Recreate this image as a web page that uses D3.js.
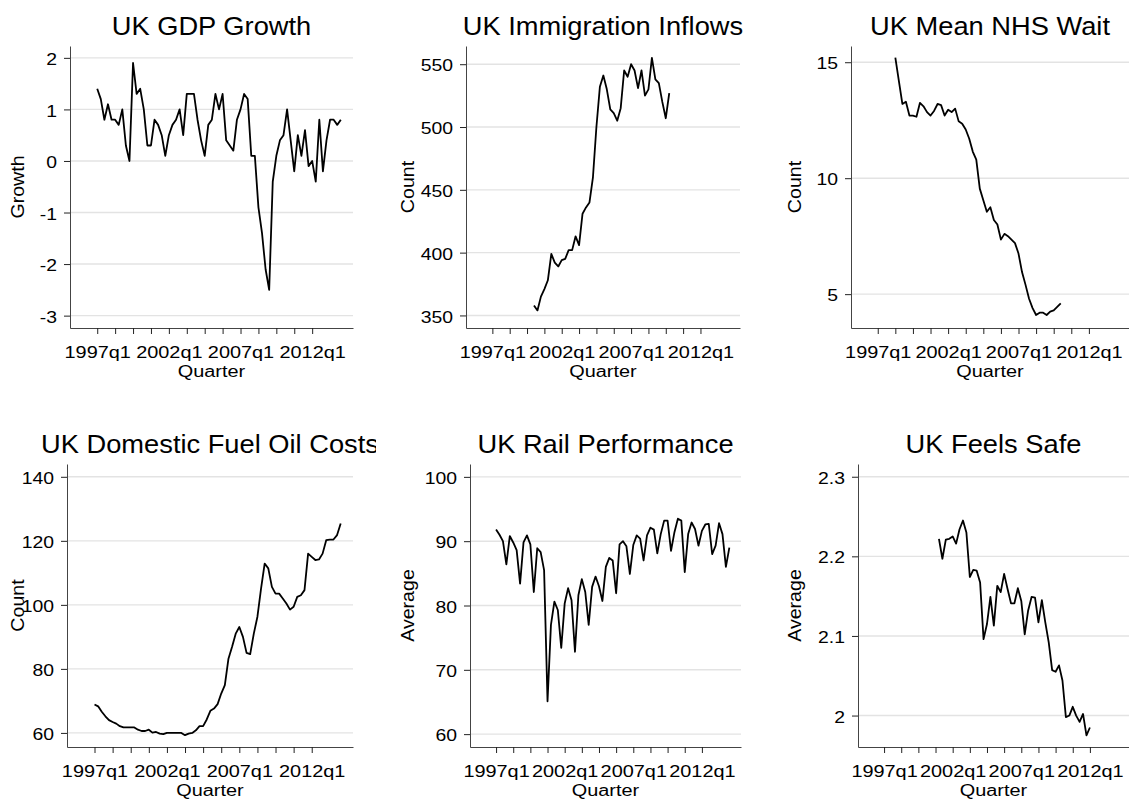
<!DOCTYPE html>
<html>
<head>
<meta charset="utf-8">
<script src="https://cdn.jsdelivr.net/npm/d3@7"></script>
<style>
html, body { margin: 0; padding: 0; background: #ffffff; }
svg { display: block; }
</style>
</head>
<body>
<svg id="chart" width="1129" height="801"></svg>
<script>
// ---------------- DATA ----------------
// Quarter offsets are counted from 1997q1 (= 0).
const xTickQuarters = [0, 5, 10, 15, 20, 25, 30, 35, 40, 45, 50, 55, 60];
const xLabelQuarters = [0, 20, 40, 60];
const xLabels = ["1997q1", "2002q1", "2007q1", "2012q1"];
const xAxisTitle = "Quarter";

const titles = ["UK GDP Growth", "UK Immigration Inflows", "UK Mean NHS Wait",
                "UK Domestic Fuel Oil Costs", "UK Rail Performance", "UK Feels Safe"];
const yAxisTitles = ["Growth", "Count", "Count", "Count", "Average", "Average"];

// UK GDP Growth, 1997q1 - 2014q1
const gdpStart = 0;
const gdpGrowth = [
  1.4, 1.2, 0.8, 1.1, 0.8, 0.8, 0.7, 1.0, 0.3, 0.0,
  1.9, 1.3, 1.4, 1.0, 0.3, 0.3, 0.8, 0.7, 0.5, 0.1,
  0.5, 0.7, 0.8, 1.0, 0.5, 1.3, 1.3, 1.3, 0.8, 0.4,
  0.1, 0.7, 0.8, 1.3, 1.0, 1.3, 0.4, 0.3, 0.2, 0.8,
  1.0, 1.3, 1.2, 0.1, 0.1, -0.9, -1.4, -2.1, -2.5, -0.4,
  0.1, 0.4, 0.5, 1.0, 0.4, -0.2, 0.5, 0.1, 0.6, -0.1,
  0.0, -0.4, 0.8, -0.2, 0.4, 0.8, 0.8, 0.7, 0.8
];
const gdpTicks = [-3, -2, -1, 0, 1, 2];
const gdpTickLabels = ["-3", "-2", "-1", "0", "1", "2"];

// UK Immigration Inflows, 2000q1 - 2009q4
const immigrationStart = 12;
const immigrationInflows = [
  358, 354, 365, 371, 378, 399, 392, 389, 394, 395,
  402, 402, 413, 406, 431, 436, 440, 460, 500, 532,
  541, 530, 514, 511, 505, 515, 545, 540, 550, 545,
  531, 545, 525, 530, 555, 538, 535, 520, 507, 527
];
const immigrationTicks = [350, 400, 450, 500, 550];
const immigrationTickLabels = ["350", "400", "450", "500", "550"];

// UK Mean NHS Wait, 1998q2 - 2010q1
const nhsStart = 5;
const nhsWait = [
  15.2, 14.2, 13.2, 13.3, 12.7, 12.7, 12.65, 13.25, 13.1, 12.85,
  12.7, 12.9, 13.2, 13.15, 12.7, 12.95, 12.85, 13.0, 12.45, 12.35,
  12.1, 11.7, 11.15, 10.8, 9.55, 9.05, 8.55, 8.75, 8.2, 8.0,
  7.35, 7.6, 7.5, 7.35, 7.2, 6.75, 5.95, 5.4, 4.8, 4.4,
  4.1, 4.2, 4.2, 4.1, 4.25, 4.3, 4.45, 4.6
];
const nhsTicks = [5, 10, 15];
const nhsTickLabels = ["5", "10", "15"];

// UK Domestic Fuel Oil Costs, 1997q1 - 2014q1
const fuelStart = 0;
const fuelOilCosts = [
  68.9, 68.3, 66.6, 65.2, 64.0, 63.4, 62.9, 62.1, 61.7, 61.7,
  61.7, 61.7, 61.0, 60.6, 60.6, 61.0, 60.1, 60.3, 59.8, 59.6,
  60.0, 60.0, 60.0, 60.0, 60.0, 59.3, 59.8, 60.0, 60.8, 62.1,
  62.1, 64.2, 66.9, 67.6, 69.0, 72.3, 74.9, 83.2, 86.9, 91.0,
  93.1, 90.0, 85.0, 84.6, 91.0, 96.3, 105.1, 112.9, 111.4, 105.6,
  103.5, 103.5, 102.0, 100.4, 98.5, 99.4, 102.5, 103.0, 104.6, 116.0,
  115.0, 114.0, 114.2, 116.0, 120.2, 120.4, 120.4, 121.8, 125.4
];
const fuelTicks = [60, 80, 100, 120, 140];
const fuelTickLabels = ["60", "80", "100", "120", "140"];

// UK Rail Performance, 1997q1 - 2014q1
const railStart = 0;
const railPerformance = [
  91.8, 91.0, 90.0, 86.4, 90.8, 89.8, 88.6, 83.4, 89.8, 90.9,
  89.5, 82.1, 88.9, 88.3, 85.5, 65.1, 77.0, 80.6, 79.3, 73.4,
  80.3, 82.7, 80.8, 72.8, 81.6, 84.1, 82.1, 77.0, 82.9, 84.5,
  83.0, 80.7, 86.0, 87.4, 87.0, 81.9, 89.5, 90.0, 89.2, 84.9,
  89.4, 90.9, 90.4, 87.0, 90.9, 92.1, 91.8, 88.1, 91.1, 93.2,
  93.2, 88.5, 91.4, 93.5, 93.2, 85.2, 91.1, 92.9, 91.9, 89.3,
  91.6, 92.6, 92.7, 88.0, 89.3, 92.8, 91.1, 86.0, 89.0
];
const railTicks = [60, 70, 80, 90, 100];
const railTickLabels = ["60", "70", "80", "90", "100"];

// UK Feels Safe, 2001q1 - 2012q1
const safeStart = 16;
const feelsSafe = [
  2.222, 2.197, 2.221, 2.222, 2.225, 2.216, 2.234, 2.245, 2.230, 2.174,
  2.183, 2.182, 2.167, 2.096, 2.115, 2.149, 2.113, 2.163, 2.155, 2.178,
  2.159, 2.141, 2.141, 2.160, 2.144, 2.102, 2.132, 2.149, 2.148, 2.117,
  2.145, 2.117, 2.092, 2.057, 2.055, 2.063, 2.044, 1.998, 2.000, 2.011,
  2.000, 1.992, 2.002, 1.975, 1.985
];
const safeTicks = [2.0, 2.1, 2.2, 2.3];
const safeTickLabels = ["2", "2.1", "2.2", "2.3"];

// ---------------- LAYOUT ----------------
const FONT = "'Liberation Sans', Arial, Helvetica, sans-serif";
const AXIS_COLOR = "#444";
const GRID_COLOR = "#e3e3e3";
const TICK_FS = 17.3, TICK_SX = 1.15;
const TITLE_FS = 25.5, TITLE_SX = 1.07;
const YTITLE_FS = 17.5, YTITLE_SX = 1.12;
const xDomain = [-7.6, 71.4];

const layouts = [
  { left: 70,  right: 353,  top: 46,  bottom: 328, yTitleX: 18,  yDomain: [-3.24, 2.23],   clip: [0, 376] },
  { left: 466, right: 740,  top: 46,  bottom: 328, yTitleX: 408, yDomain: [340, 564.5],    clip: [376, 752] },
  { left: 851, right: 1129, top: 46,  bottom: 328, yTitleX: 795, yDomain: [3.54, 15.7],    clip: [752, 1129] },
  { left: 67,  right: 353,  top: 464, bottom: 747, yTitleX: 18,  yDomain: [55.6, 144],     clip: [0, 376] },
  { left: 470, right: 741,  top: 464, bottom: 747, yTitleX: 408, yDomain: [58, 102],       clip: [376, 752] },
  { left: 858, right: 1129, top: 464, bottom: 747, yTitleX: 795, yDomain: [1.9605, 2.316], clip: [752, 1129] }
];

const series = [
  { start: gdpStart, values: gdpGrowth, ticks: gdpTicks, tickLabels: gdpTickLabels },
  { start: immigrationStart, values: immigrationInflows, ticks: immigrationTicks, tickLabels: immigrationTickLabels },
  { start: nhsStart, values: nhsWait, ticks: nhsTicks, tickLabels: nhsTickLabels },
  { start: fuelStart, values: fuelOilCosts, ticks: fuelTicks, tickLabels: fuelTickLabels },
  { start: railStart, values: railPerformance, ticks: railTicks, tickLabels: railTickLabels },
  { start: safeStart, values: feelsSafe, ticks: safeTicks, tickLabels: safeTickLabels }
];

// ---------------- DRAW ----------------
const svg = d3.select("#chart");
svg.append("rect").attr("width", 1129).attr("height", 801).attr("fill", "#fff");
const defs = svg.append("defs");

series.forEach((s, i) => {
  const L = layouts[i];
  const g = svg.append("g");
  const x = d3.scaleLinear().domain(xDomain).range([L.left, L.right]);
  const y = d3.scaleLinear().domain(L.yDomain).range([L.bottom, L.top]);

  // grid lines
  g.append("g").selectAll("line").data(s.ticks).join("line")
    .attr("x1", L.left).attr("x2", L.right)
    .attr("y1", d => y(d)).attr("y2", d => y(d))
    .attr("stroke", GRID_COLOR).attr("stroke-width", 1.4);

  // x axis
  const labelOf = d => { const k = xLabelQuarters.indexOf(d); return k >= 0 ? xLabels[k] : ""; };
  const gx = g.append("g").attr("transform", `translate(0,${L.bottom})`)
    .call(d3.axisBottom(x).tickValues(xTickQuarters).tickSize(6).tickSizeOuter(0).tickFormat(labelOf));
  gx.attr("font-family", FONT).attr("font-size", TICK_FS);
  gx.select(".domain").attr("stroke", AXIS_COLOR);
  gx.selectAll(".tick line").attr("stroke", "#222");
  gx.selectAll(".tick text").attr("y", 0).attr("dy", 0).attr("fill", "#000")
    .attr("transform", `translate(0,29.6) scale(${TICK_SX},1)`);

  // y axis
  const gy = g.append("g").attr("transform", `translate(${L.left},0)`)
    .call(d3.axisLeft(y).tickValues(s.ticks).tickSize(6).tickSizeOuter(0)
      .tickFormat((d, k) => s.tickLabels[k]));
  gy.attr("font-family", FONT).attr("font-size", TICK_FS);
  gy.select(".domain").attr("stroke", AXIS_COLOR);
  gy.selectAll(".tick line").attr("stroke", "#222");
  gy.selectAll(".tick text").attr("x", 0).attr("dy", 0).attr("fill", "#000")
    .attr("transform", `translate(-13,6.6) scale(1.12,1)`);

  // x axis title
  g.append("text").text(xAxisTitle)
    .attr("font-family", FONT).attr("font-size", TICK_FS).attr("text-anchor", "middle")
    .attr("transform", `translate(${(L.left + L.right) / 2},${L.bottom + 48.5}) scale(${TICK_SX},1)`);

  // y axis title
  g.append("text").text(yAxisTitles[i])
    .attr("font-family", FONT).attr("font-size", YTITLE_FS).attr("text-anchor", "middle")
    .attr("dy", "0.36em")
    .attr("transform", `translate(${L.yTitleX},${(L.top + L.bottom) / 2}) rotate(-90) scale(${YTITLE_SX},1)`);

  // title (clipped to its panel column)
  const cid = "clip" + i;
  defs.append("clipPath").attr("id", cid).append("rect")
    .attr("x", L.clip[0]).attr("y", 0).attr("width", L.clip[1] - L.clip[0]).attr("height", 801);
  g.append("g").attr("clip-path", `url(#${cid})`).append("text").text(titles[i])
    .attr("font-family", FONT).attr("font-size", TITLE_FS).attr("text-anchor", "middle")
    .attr("transform", `translate(${(L.left + L.right) / 2},${L.top - 11.5}) scale(${TITLE_SX},1)`);

  // data line
  const pts = s.values.map((v, k) => ({ q: s.start + k, v }));
  g.append("path").datum(pts)
    .attr("fill", "none").attr("stroke", "#000").attr("stroke-width", 1.8)
    .attr("stroke-linejoin", "round")
    .attr("d", d3.line().x(d => x(d.q)).y(d => y(d.v)));
});
</script>
</body>
</html>
